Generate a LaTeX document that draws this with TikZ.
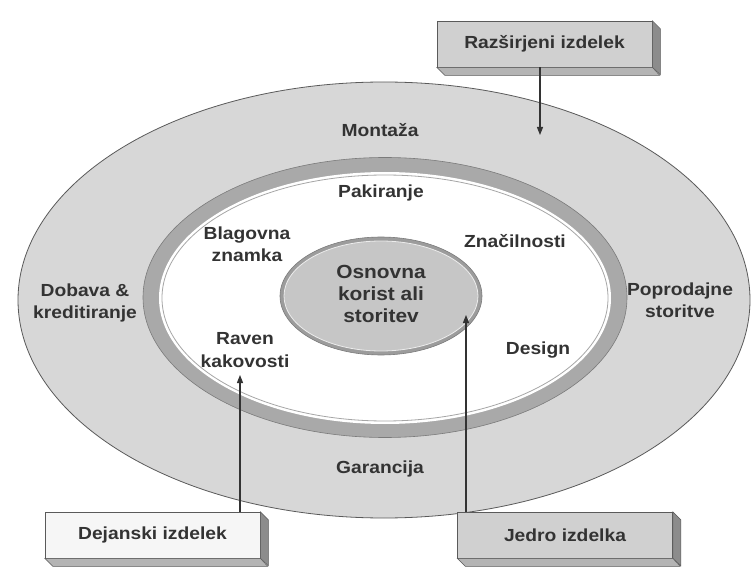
\documentclass[tikz,border=0pt]{standalone}
\usepackage{fontspec}
\setmainfont[FakeStretch=1.1]{Liberation Sans}
\usetikzlibrary{arrows.meta}
\definecolor{ringgray}{HTML}{D7D7D7}
\definecolor{bandgray}{HTML}{A9A9A9}
\definecolor{coregray}{HTML}{C6C6C6}
\definecolor{coreedge}{HTML}{9C9C9C}
\definecolor{edge}{HTML}{5A5A5A}
\definecolor{txt}{HTML}{333333}
\definecolor{boxgray}{HTML}{D0D0D0}
\definecolor{boxwhite}{HTML}{F6F6F6}
\definecolor{sidegray}{HTML}{8C8C8C}
\definecolor{bottomgray}{HTML}{B4B4B4}
\begin{document}
\begin{tikzpicture}[x=1pt,y=-1pt,
  lbl/.style={font=\bfseries\fontsize{17.5}{22.5}\selectfont, text=txt, align=center, inner sep=0pt},
  corelbl/.style={font=\bfseries\fontsize{19}{22}\selectfont, text=txt, align=center, inner sep=0pt},
  box/.style={draw=edge, line width=0.6pt, minimum width=215pt, minimum height=46pt, inner sep=0pt,
    font=\bfseries\fontsize{17.5}{22}\selectfont, text=txt},
  side/.style={fill=sidegray, draw=edge, line width=0.5pt},
  bottomface/.style={fill=bottomgray, draw=edge, line width=0.5pt},
  arr/.style={draw=txt, line width=1.1pt, -{Triangle[length=8pt,width=6pt]}}]
\useasboundingbox (0,0) rectangle (756,575);
\fill[white] (0,0) rectangle (756,575);
% rings
\draw[fill=ringgray, draw=edge, line width=0.8pt] (384,300) ellipse [x radius=366pt, y radius=218pt];
\draw[fill=bandgray, draw=edge!80, line width=0.6pt] (385,297.5) ellipse [x radius=242pt, y radius=140pt];
\fill[white] (385,298) ellipse [x radius=226pt, y radius=126pt];
\draw[gray!70, line width=0.8pt] (385,298) ellipse [x radius=223pt, y radius=123pt];
% core
\draw[fill=coreedge, draw=edge!80, line width=0.6pt] (381,296) ellipse [x radius=101pt, y radius=59pt];
\draw[fill=coregray, draw=white!85!gray, line width=0.8pt] (381,296) ellipse [x radius=97pt, y radius=55pt];
% labels
\node[lbl] (montaza) at (380,130) {Montaža};
\node[lbl] (pakiranje) at (381,193) {Pakiranje};
\node[lbl] (blagovna) at (247,244) {Blagovna\\znamka};
\node[lbl] (znacilnosti) at (515,241) {Značilnosti};
\node[corelbl] (core) at (381,294) {Osnovna\\korist ali\\storitev};
\node[lbl] (dobava) at (85,303) {Dobava \&\\kreditiranje};
\node[lbl] (poprodajne) at (680,300) {Poprodajne\\storitve};
\node[lbl] (raven) at (245,350) {Raven\\kakovosti};
\node[lbl] (design) at (538,350) {Design};
\node[lbl] (garancija) at (380,469) {Garancija};
% boxes
\node[box, fill=boxgray] (rb) at (544.5,44) {Razširjeni izdelek};
\draw[side] (rb.north east) -- ++(8,8) -- ++(0,46) -- (rb.south east) -- cycle;
\draw[bottomface] (rb.south west) -- ++(8,8) -- ++(215,0) -- (rb.south east) -- cycle;
\node[box, fill=boxwhite] (dj) at (152.5,535) {Dejanski izdelek};
\draw[side] (dj.north east) -- ++(8,8) -- ++(0,46) -- (dj.south east) -- cycle;
\draw[bottomface] (dj.south west) -- ++(8,8) -- ++(215,0) -- (dj.south east) -- cycle;
\node[box, fill=boxgray] (jd) at (565,535) {Jedro izdelka};
\draw[side] (jd.north east) -- ++(8,8) -- ++(0,46) -- (jd.south east) -- cycle;
\draw[bottomface] (jd.south west) -- ++(8,8) -- ++(215,0) -- (jd.south east) -- cycle;
% arrow tips
\coordinate (tipM) at (540,135);
\coordinate (tipR) at (240,375);
\coordinate (tipJ) at (466,315);
\draw[arr] (rb.south -| tipM) -- (tipM);
\draw[arr] (dj.north -| tipR) -- (tipR);
\draw[arr] (jd.north -| tipJ) -- (tipJ);
\end{tikzpicture}
\end{document}
